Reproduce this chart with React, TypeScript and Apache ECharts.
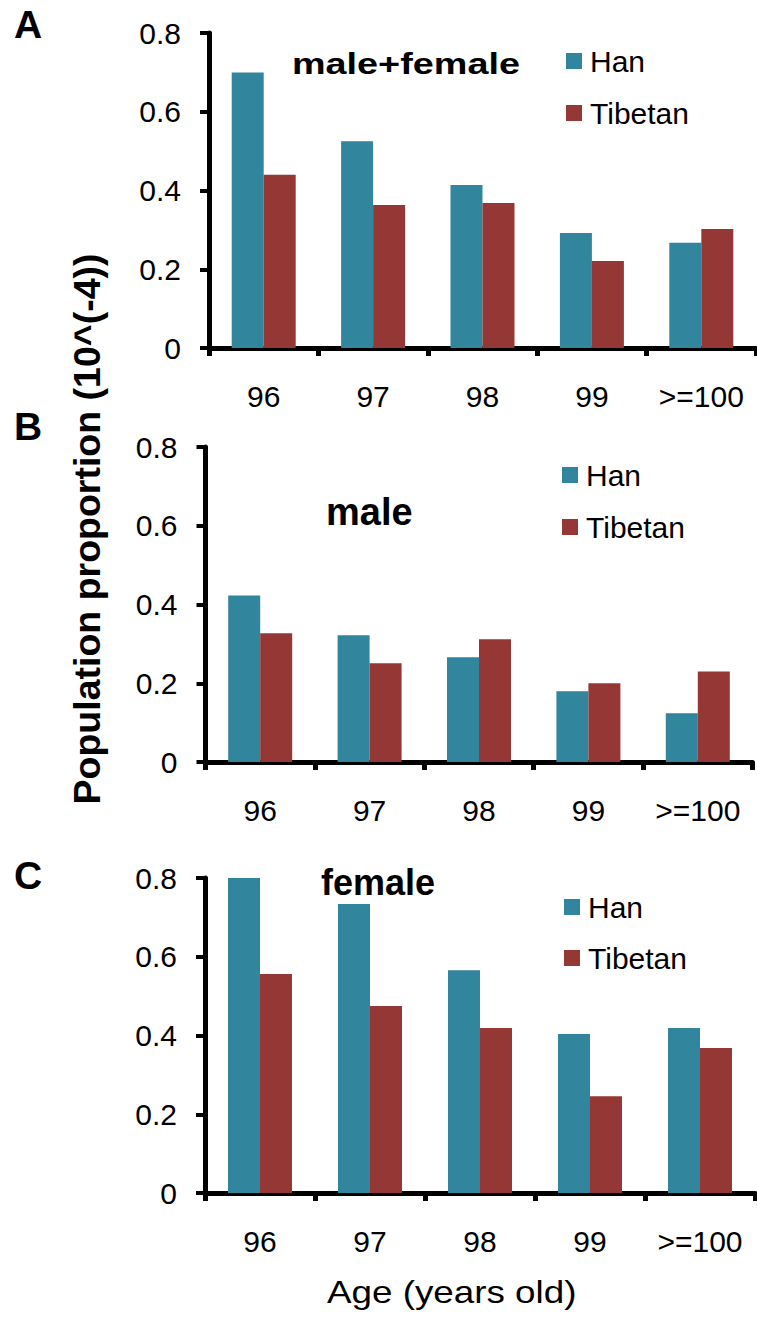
import React, { useEffect, useRef } from 'react';
import * as echarts from 'echarts';

const categories = ['96', '97', '98', '99', '>=100'];
const seriesNames = ['Han', 'Tibetan'];
const hanAll = [0.70, 0.525, 0.414, 0.292, 0.267];
const tibAll = [0.44, 0.363, 0.368, 0.221, 0.302];
const hanMale = [0.423, 0.322, 0.266, 0.180, 0.124];
const tibMale = [0.327, 0.251, 0.312, 0.200, 0.230];
const hanFemale = [0.80, 0.734, 0.566, 0.404, 0.419];
const tibFemale = [0.556, 0.475, 0.419, 0.246, 0.368];
const panelTitles = ['male+female', 'male', 'female'];
const panelLetters = ['A', 'B', 'C'];
const yMin = 0;
const yMax = 0.8;
const yStep = 0.2;
const yAxisTitle = 'Population proportion (10^(-4))';
const xAxisTitle = 'Age (years old)';

const FONT = '"Liberation Sans", Arial, sans-serif';
const HAN_COLOR = '#31859C';
const TIB_COLOR = '#953735';

const grids = [
  { left: 209, top: 33, width: 547, height: 315 },
  { left: 205.5, top: 447, width: 547, height: 315 },
  { left: 205, top: 878, width: 550, height: 315 },
];
const legendPos = [
  { left: 566, top: 46, gap: 22 },
  { left: 562, top: 460, gap: 22 },
  { left: 564, top: 892, gap: 21 },
];

export default function App() {
  const ref = useRef<HTMLDivElement>(null);
  useEffect(() => {
    if (!ref.current) return;
    const chart = echarts.init(ref.current, undefined, { renderer: 'svg' });
    const data = [
      [hanAll, tibAll],
      [hanMale, tibMale],
      [hanFemale, tibFemale],
    ];
    const xAxes = grids.map((_, i) => ({
      type: 'category',
      gridIndex: i,
      data: categories,
      boundaryGap: true,
      axisLine: { show: true, lineStyle: { color: '#000', width: 5 } },
      axisTick: { show: true, length: 8, alignWithLabel: false, lineStyle: { color: '#000', width: 5 } },
      axisLabel: { fontSize: 30, fontFamily: FONT, color: '#000', margin: 33, interval: 0 },
      splitLine: { show: false },
    }));
    const yAxes = grids.map((_, i) => ({
      type: 'value',
      gridIndex: i,
      min: yMin,
      max: yMax,
      interval: yStep,
      axisLine: { show: true, lineStyle: { color: '#000', width: 5 } },
      axisTick: { show: true, length: 9, lineStyle: { color: '#000', width: 4 } },
      axisLabel: {
        fontSize: 30,
        fontFamily: FONT,
        color: '#000',
        margin: 28,
        formatter: (v: number) => (Math.abs(v) < 1e-9 ? '0' : v.toFixed(1)),
      },
      splitLine: { show: false },
    }));
    const series: any[] = [];
    data.forEach((pair, i) => {
      pair.forEach((vals, j) => {
        series.push({
          type: 'bar',
          name: seriesNames[j],
          xAxisIndex: i,
          yAxisIndex: i,
          data: vals,
          barWidth: 32,
          barGap: '0%',
          itemStyle: { color: j === 0 ? HAN_COLOR : TIB_COLOR },
        });
      });
    });
    const legends = legendPos.map((p) => ({
      data: seriesNames,
      orient: 'vertical',
      left: p.left,
      top: p.top,
      itemGap: p.gap,
      itemWidth: 16,
      itemHeight: 16,
      icon: 'rect',
      selectedMode: false,
      padding: 0,
      textStyle: { fontSize: 30, lineHeight: 30, fontFamily: FONT, color: '#000', padding: [0, 0, 0, 3] },
    }));
    const boldText = (text: string, x: number, y: number, size: number, extra: any = {}) => ({
      type: 'text',
      x,
      y,
      ...extra,
      style: {
        text,
        fontFamily: FONT,
        fontWeight: 'bold',
        fontSize: size,
        fill: '#000',
        textAlign: extra.align || 'left',
        textVerticalAlign: 'middle',
      },
    });
    const graphic: any[] = [
      boldText(panelLetters[0], 14, 24.5, 39),
      boldText(panelLetters[1], 14, 426.5, 39),
      boldText(panelLetters[2], 14, 875.5, 39),
      boldText(panelTitles[0], 292, 63.5, 30, { scaleX: 1.26 }),
      boldText(panelTitles[1], 326, 511.7, 38),
      boldText(panelTitles[2], 321, 882.4, 36),
      boldText(yAxisTitle, 87, 529, 37.5, { rotation: Math.PI / 2, align: 'center' }),
      {
        type: 'text',
        x: 327,
        y: 1291.8,
        scaleX: 1.15,
        style: {
          text: xAxisTitle,
          fontFamily: FONT,
          fontSize: 32,
          fill: '#000',
          textAlign: 'left',
          textVerticalAlign: 'middle',
        },
      },
    ];
    chart.setOption({
      animation: false,
      backgroundColor: '#fff',
      grid: grids.map((g) => ({ ...g, containLabel: false })),
      xAxis: xAxes,
      yAxis: yAxes,
      legend: legends,
      series,
      graphic,
    } as any);
    return () => chart.dispose();
  }, []);
  return <div ref={ref} style={{ position: 'absolute', left: 0, top: 0, width: 757, height: 1317 }} />;
}
